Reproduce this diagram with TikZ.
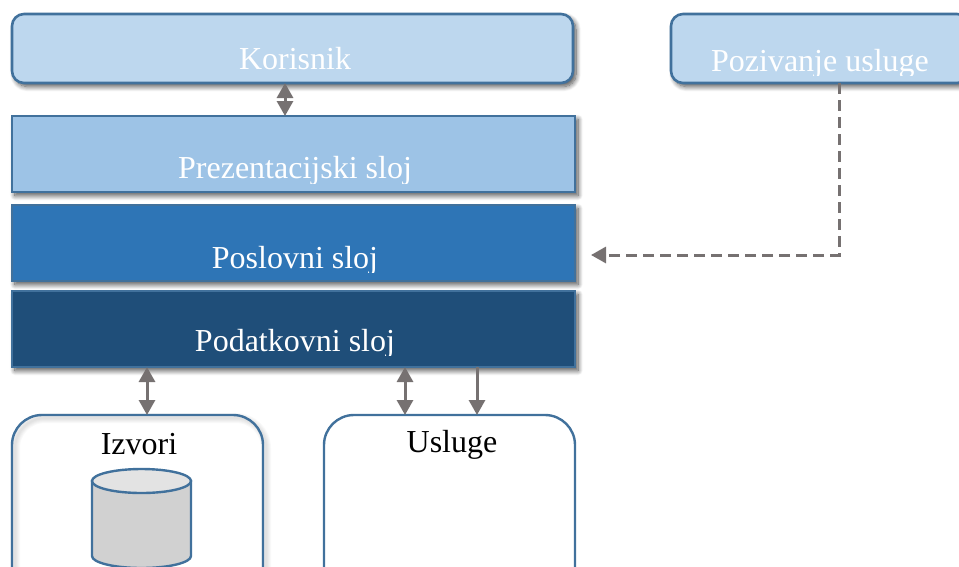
\documentclass[tikz,border=0pt]{standalone}
\usepackage{fontspec}
\setmainfont{Liberation Serif}
\usetikzlibrary{arrows.meta,shadows.blur,positioning}
\definecolor{edgeblue}{HTML}{41719C}
\definecolor{lightA}{HTML}{BDD7EE}
\definecolor{lightB}{HTML}{9DC3E6}
\definecolor{midblue}{HTML}{2E75B6}
\definecolor{darkblue}{HTML}{1F4E79}
\definecolor{arrowgray}{HTML}{767171}
\tikzset{
  x=1pt,y=-1pt,
  softshadow/.style={blur shadow={shadow xshift=3pt,shadow yshift=-3.5pt,shadow blur steps=10,shadow blur radius=5pt,shadow opacity=70}},
  layerbox/.style={rectangle,draw=edgeblue,line width=2.6pt,outer sep=0pt,inner sep=0pt,softshadow},
  roundbox/.style={layerbox,rounded corners=12pt},
  holder/.style={rectangle,rounded corners=30pt,draw=edgeblue,line width=2.4pt,outer sep=0pt,inner sep=0pt},
  holderglow/.style={rounded corners=30pt,draw=black,draw opacity=0.025},
  wlabel/.style={text=white,font=\fontsize{32}{32}\selectfont,anchor=base,inner sep=0pt,outer sep=0pt},
  blabel/.style={text=black,font=\fontsize{32}{32}\selectfont,anchor=base,inner sep=0pt,outer sep=0pt},
  link/.style={draw=arrowgray,line width=3pt},
  bothway/.style={link,{Triangle[length=15pt,width=16pt]}-{Triangle[length=15pt,width=16pt]}},
  oneway/.style={link,-{Triangle[length=15pt,width=16pt]}},
  dashlink/.style={link,dash pattern=on 11pt off 6pt,-{Triangle[length=15pt,width=16pt]}}
}
\begin{document}
\begin{tikzpicture}
\useasboundingbox (0,0) rectangle (959,566);
\clip (0,0) rectangle (959,566);
% layers
\node[roundbox,fill=lightA,minimum width=561pt,minimum height=69pt] (kor) at (292.5,48.5) {};
\node[roundbox,fill=lightA,minimum width=298pt,minimum height=69pt] (poz) at (820,48.5) {};
\node[layerbox,fill=lightB,minimum width=563pt,minimum height=76pt] (pre) at (293.5,154) {};
\node[layerbox,fill=midblue,minimum width=563pt,minimum height=76pt] (pos) at (293.5,243) {};
\node[layerbox,fill=darkblue,minimum width=563pt,minimum height=76pt] (pod) at (293.5,329) {};
% soft shadow of the outlined source box
\foreach \w in {10,8,6,4,2}{
  \draw[holderglow,line width=\w pt] (15,418) rectangle (266,608);
}
\node[holder,minimum width=251pt,minimum height=190pt] (izv) at (137.5,510) {};
\node[holder,minimum width=251pt,minimum height=190pt] (usl) at (449.5,510) {};
% labels (bottoms cut by the text frame as in the picture)
\node[wlabel] (korl) at (295,69) {Korisnik};
\begin{scope}
\clip (0,150) rectangle (959,183.5);
\node[wlabel] (prel) at (295,178) {Prezentacijski sloj};
\end{scope}
\begin{scope}
\clip (0,240) rectangle (959,272);
\node[wlabel] (posl) at (295,268) {Poslovni sloj};
\end{scope}
\begin{scope}
\clip (0,320) rectangle (959,355);
\node[wlabel] (podl) at (295,351) {Podatkovni sloj};
\end{scope}
\begin{scope}
\clip (660,40) rectangle (959,75);
\node[wlabel] (pozl) at (820,71) {Pozivanje usluge};
\end{scope}
\node[blabel] (izvl) at (139,454) {Izvori};
\node[blabel] (usll) at (452,452) {Usluge};
% cylinder
\draw[edgeblue,line width=2.4pt,fill=black!18] (92,481) -- (92,556) arc[start angle=180,end angle=0,x radius=49.5,y radius=12] -- (191,481) -- cycle;
\draw[edgeblue,line width=2.4pt,fill=black!11] (141.5,481) ellipse[x radius=49.5,y radius=12];
% connectors
\draw[bothway] ([xshift=-7.5pt]kor.south) -- ([xshift=-8.5pt]pre.north);
\draw[bothway] (pod.south -| 147,0) -- (izv.north -| 147,0);
\draw[bothway] (pod.south -| 405,0) -- (usl.north -| 405,0);
\draw[oneway] (pod.south -| 477,0) -- (usl.north -| 477,0);
\coordinate (dashend) at (591,255);
\draw[dashlink] (poz.south -| 839,0) -- (839,255) -- (dashend);
\end{tikzpicture}
\end{document}
